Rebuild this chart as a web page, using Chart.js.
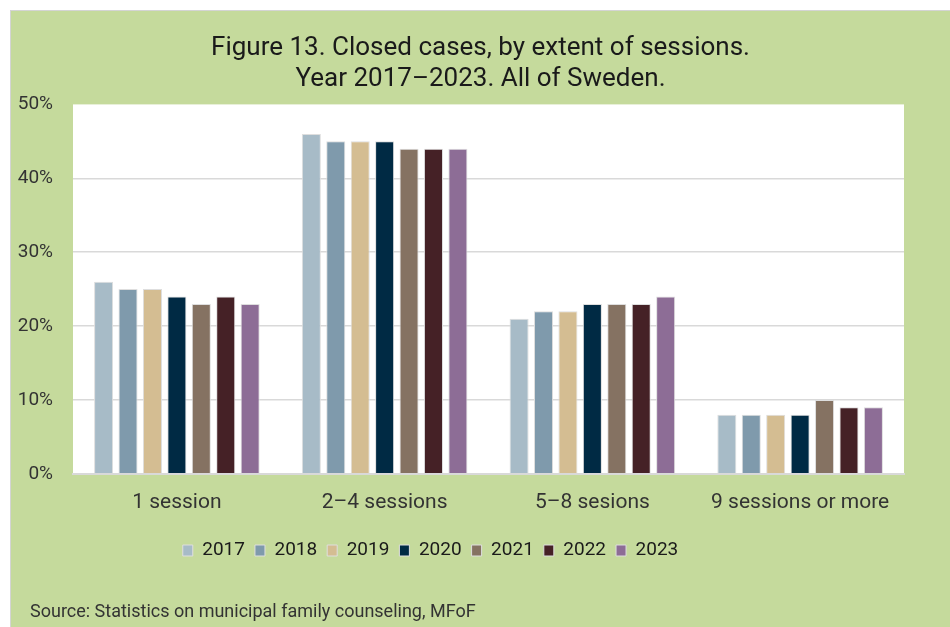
<!DOCTYPE html>
<html>
<head>
<meta charset="utf-8">
<script src="https://cdn.jsdelivr.net/npm/chart.js@4"></script>
<style>
  body { margin: 0; background: #ffffff; }
  #box {
    position: absolute;
    left: 10px;
    top: 10px;
    width: 940px;
    height: 617px;
    background: #c5da9c;
    border-left: 1px solid #d4d4d4;
    border-top: 1px solid #d4d4d4;
    box-sizing: border-box;
  }
  canvas { display: block; }
</style>
</head>
<body>
<div id="box"><canvas id="chart" width="939" height="616"></canvas></div>
<script>
// categories and series
const categories = ["1 session", "2\u20134 sessions", "5\u20138 sesions", "9 sessions or more"];
const years = ["2017", "2018", "2019", "2020", "2021", "2022", "2023"];

const v2017 = [26, 46, 21, 8];
const v2018 = [25, 45, 22, 8];
const v2019 = [25, 45, 22, 8];
const v2020 = [24, 45, 23, 8];
const v2021 = [23, 44, 23, 10];
const v2022 = [24, 44, 23, 9];
const v2023 = [23, 44, 24, 9];

const yTicks = [0, 10, 20, 30, 40, 50];

const titleLines = ["Figure 13. Closed cases, by extent of sessions.", "Year 2017\u20132023. All of Sweden."];
const sourceText = "Source: Statistics on municipal family counseling, MFoF";

const colors = ["#a7bbc7", "#7f9aac", "#d4bd92", "#002a44", "#857262", "#452126", "#8d6d96"];
const seriesValues = [v2017, v2018, v2019, v2020, v2021, v2022, v2023];

const FONT = "Roboto, 'Noto Sans', sans-serif";

/* plot area background + source line */
const backdrop = {
    id: "backdrop",
    beforeDraw(chart) {
        const { ctx, chartArea } = chart;
        ctx.save();
        ctx.fillStyle = "#ffffff";
        ctx.fillRect(chartArea.left, chartArea.top,
            chartArea.right - chartArea.left, chartArea.bottom - chartArea.top);
        ctx.restore();
    },
    afterLayout(chart) {
        // legend sits a bit left of centre, title is centred on the whole box
        chart.legend.left -= 27;
        chart.legend.right -= 27;
        chart.titleBlock.left += 23;
        chart.titleBlock.right += 23;
    },
    afterDraw(chart) {
        const ctx = chart.ctx;
        ctx.save();
        ctx.font = "18px " + FONT;
        ctx.fillStyle = "#333333";
        ctx.textBaseline = "middle";
        ctx.fillText(sourceText, 19, 601);
        ctx.restore();
    }
};

const chart = new Chart(document.getElementById("chart"), {
    type: "bar",
    data: {
        labels: categories,
        datasets: years.map((y, i) => ({
            label: y,
            data: seriesValues[i],
            backgroundColor: colors[i],
            borderColor: "#dedede",
            borderWidth: 1,
            categoryPercentage: 0.823,
            barPercentage: 0.78
        }))
    },
    options: {
        responsive: false,
        animation: false,
        layout: {
            padding: { left: 0, right: 46, top: 0, bottom: 57 }
        },
        plugins: {
            title: {
                display: true,
                text: titleLines,
                color: "#1a1a1a",
                font: { family: FONT, size: 26, weight: "normal", lineHeight: 1.2 },
                padding: { top: 22, bottom: 9 }
            },
            legend: {
                position: "bottom",
                labels: {
                    boxWidth: 10,
                    boxHeight: 11,
                    padding: 10,
                    color: "#1a1a1a",
                    font: { family: FONT, size: 19 }
                }
            },
            tooltip: { enabled: false }
        },
        scales: {
            x: {
                grid: { display: false },
                border: { display: true, color: "#d9d9d9", width: 2 },
                ticks: {
                    padding: 8,
                    color: "#333333",
                    font: { family: FONT, size: 21 }
                },
                afterFit(scale) {
                    scale.height += 8;
                }
            },
            y: {
                min: 0,
                max: 50,
                afterBuildTicks(scale) {
                    scale.ticks = yTicks.map(v => ({ value: v }));
                },
                afterFit(scale) {
                    scale.width = 62;
                },
                grid: {
                    drawTicks: false,
                    lineWidth: 1.5,
                    color: c => (c.tick && c.tick.value === 50) ? "rgba(0,0,0,0)" : "#d9d9d9"
                },
                border: { display: false },
                ticks: {
                    padding: 20,
                    color: "#333333",
                    font: { family: FONT, size: 19 },
                    callback: v => v + "%"
                }
            }
        }
    },
    plugins: [backdrop]
});
</script>
</body>
</html>
